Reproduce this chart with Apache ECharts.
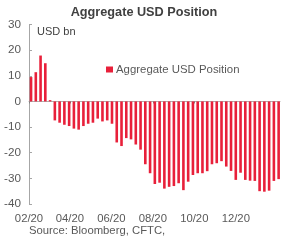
<!DOCTYPE html>
<html><head><meta charset="utf-8">
<script src="https://cdn.jsdelivr.net/npm/echarts@6/dist/echarts.min.js"></script>
<style>html,body{margin:0;padding:0;background:#fff;}#c{width:288px;height:242px;}</style>
</head><body><div id="c"></div>
<script>
const dates = ['2020-02-04','2020-02-11','2020-02-18','2020-02-25','2020-03-03','2020-03-10','2020-03-17','2020-03-24','2020-03-31',
'2020-04-07','2020-04-14','2020-04-21','2020-04-28','2020-05-05','2020-05-12','2020-05-19','2020-05-26',
'2020-06-02','2020-06-09','2020-06-16','2020-06-23','2020-06-30','2020-07-07','2020-07-14','2020-07-21','2020-07-28',
'2020-08-04','2020-08-11','2020-08-18','2020-08-25','2020-09-01','2020-09-08','2020-09-15','2020-09-22','2020-09-29',
'2020-10-06','2020-10-13','2020-10-20','2020-10-27','2020-11-03','2020-11-10','2020-11-17','2020-11-24',
'2020-12-01','2020-12-08','2020-12-15','2020-12-22','2020-12-29','2021-01-05','2021-01-12','2021-01-19','2021-01-26','2021-02-02'];
const aggregateUSD = [9.5, 11.4, 17.9, 14.9, 0.5, -7.4, -8.3, -9.1, -9.6, -10.6, -11, -9.6, -8.7, -8.3, -6.7, -7.8, -7.4, -8.7,
-16, -17.4, -14.3, -14.8, -16.8, -18.8, -24.5, -28, -32.2, -31.7, -34, -33.3, -33, -31.9, -34.6, -31.3, -28.7, -28, -28, -27.2,
-24.5, -24.1, -23.3, -25.4, -27.1, -30.6, -27.8, -30.6, -30.9, -31, -35, -35.2, -34.8, -31, -30.3];
const xTickDates = ['2020-02-01','2020-04-01','2020-06-01','2020-08-01','2020-10-01','2020-12-01'];
const xMin = '2020-02-01', xMax = '2021-02-04';
const yMin = -40, yMax = 30, yStep = 10;
const seriesName = 'Aggregate USD Position';
const titleText = 'Aggregate USD Position';
const unitText = 'USD bn';
const sourceText = 'Source: Bloomberg, CFTC,';

const ts = s => { const p = s.split('-').map(Number); return new Date(p[0], p[1]-1, p[2]).getTime(); };
const tickVals = xTickDates.map(ts);
const fmt = v => { const d = new Date(v); const m = d.getMonth()+1; return (m<10?'0':'')+m+'/'+String(d.getFullYear()).slice(2); };
const FONT = 'Liberation Sans, Arial, sans-serif';
const chart = echarts.init(document.getElementById('c'), null, {renderer:'canvas'});
chart.setOption({
  animation:false,
  textStyle:{fontFamily:FONT},
  title:{text:titleText, left:'center', top:1, textStyle:{fontSize:12.7, fontWeight:'bold', color:'#404040', fontFamily:FONT}},
  legend:{left:101, top:59, itemWidth:7, itemHeight:6, itemGap:5, textStyle:{fontSize:11.4, color:'#595959', fontFamily:FONT, padding:[0,0,0,-2]}, data:[{name:seriesName, icon:'rect'}]},
  grid:{left:29, right:8, top:24.5, bottom:38, containLabel:false},
  xAxis:[
    {type:'value', min:ts(xMin), max:ts(xMax), axisLine:{show:false, onZero:false}, axisTick:{show:false}, splitLine:{show:false},
     axisLabel:{customValues:tickVals, formatter:fmt, fontSize:11.3, color:'#595959', margin:9, fontFamily:FONT, hideOverlap:false, showMinLabel:true}},
    {type:'value', min:ts(xMin), max:ts(xMax), position:'bottom', axisLine:{show:true, onZero:true, lineStyle:{color:'#b0b0b0', width:1}},
     axisTick:{show:true, customValues:tickVals, length:2, lineStyle:{color:'#808080'}}, axisLabel:{show:false}, splitLine:{show:false}}
  ],
  yAxis:{type:'value', min:yMin, max:yMax, interval:yStep, axisLine:{show:true, lineStyle:{color:'#a6a6a6'}},
    axisTick:{show:true, inside:true, length:3, lineStyle:{color:'#a6a6a6'}}, splitLine:{show:false},
    axisLabel:{fontSize:11.7, color:'#595959', margin:8, fontFamily:FONT}},
  graphic:[
    {type:'text', left:37, top:26, style:{text:unitText, fontSize:11, fill:'#404040', fontFamily:FONT}},
    {type:'text', left:29, top:225, style:{text:sourceText, fontSize:11.3, fill:'#595959', fontFamily:FONT}}
  ],
  series:[{name:seriesName, type:'bar', xAxisIndex:0, barWidth:2.6, itemStyle:{color:'#e8203a'},
    data: dates.map((d,i)=>[ts(d), aggregateUSD[i]])}]
});
</script></body></html>
